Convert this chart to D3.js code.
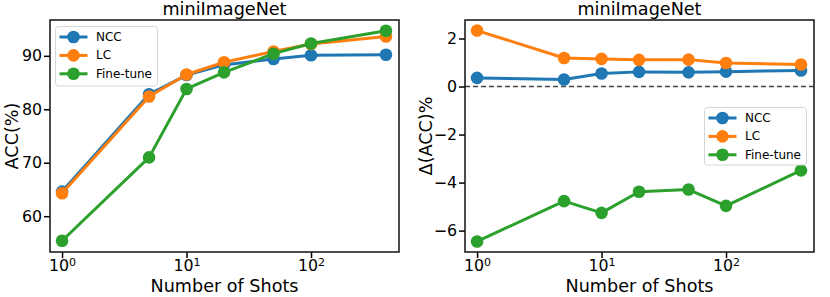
<!DOCTYPE html>
<html><head><meta charset="utf-8">
<script src="https://cdn.jsdelivr.net/npm/d3@7"></script>
<style>body{margin:0;background:#fff}svg{display:block;font-family:"DejaVu Sans",sans-serif}</style>
</head><body><svg id="c" width="830" height="297"></svg>
<script>
const shots = [1, 5, 10, 20, 50, 100, 400];
const seriesNames = ["NCC", "LC", "Fine-tune"];
const colors = ["#1f77b4", "#ff7f0e", "#2ca02c"];
const accNCC = [64.6, 82.8, 86.4, 88.3, 89.4, 90.1, 90.2];
const accLC = [64.3, 82.4, 86.5, 88.8, 90.8, 92.2, 93.6];
const accFT = [55.4, 71.0, 83.8, 86.9, 90.4, 92.3, 94.7];
const dNCC = [0.36, 0.29, 0.54, 0.61, 0.59, 0.62, 0.67];
const dLC = [2.33, 1.19, 1.15, 1.11, 1.12, 0.98, 0.92];
const dFT = [-6.45, -4.77, -5.26, -4.38, -4.29, -4.97, -3.49];
const xTicks = [1, 10, 100];
const yTicksLeft = [60, 70, 80, 90];
const yTicksRight = [-6, -4, -2, 0, 2];

const svg = d3.select("#c");
const FONT = "DejaVu Sans";

function panel(opts) {
  const {x0, x1, y0, y1, ydom, yticks, data, ylabel, ylabelX, legend, zero} = opts;
  const g = svg.append("g");
  const x = d3.scaleLog().domain([0.80, 509]).range([x0, x1]);
  const y = d3.scaleLinear().domain(ydom).range([y1, y0]);

  if (zero) {
    g.append("line").attr("x1", x0).attr("x2", x1).attr("y1", y(0)).attr("y2", y(0))
      .attr("stroke", "#444").attr("stroke-width", 1.5).attr("stroke-dasharray", "5,3");
  }

  const line = d3.line().x((d, i) => x(shots[i])).y(d => y(d));
  data.forEach((vals, k) => {
    const s = g.append("g");
    s.append("path").attr("d", line(vals)).attr("fill", "none")
      .attr("stroke", colors[k]).attr("stroke-width", 3).attr("stroke-linejoin", "round");
    s.selectAll("circle").data(vals).join("circle")
      .attr("cx", (d, i) => x(shots[i])).attr("cy", d => y(d)).attr("r", 6.3)
      .attr("fill", colors[k]);
  });

  // axes
  const xa = g.append("g").attr("transform", `translate(0,${y1})`)
    .call(d3.axisBottom(x).tickValues(xTicks).tickSize(6).tickPadding(1.5));
  xa.select(".domain").remove();
  xa.selectAll(".tick line").attr("stroke", "#000").attr("stroke-width", 1.5);
  xa.selectAll("text").attr("font-family", FONT).attr("font-size", 15.8).attr("fill", "#000")
    .each(function(d) {
      const t = d3.select(this);
      t.text("10");
      t.append("tspan").attr("dy", "-0.45em").attr("font-size", "0.7em").text(Math.round(Math.log10(d)));
    });

  const ya = g.append("g").attr("transform", `translate(${x0},0)`)
    .call(d3.axisLeft(y).tickValues(yticks).tickSize(6).tickPadding(2)
      .tickFormat(d => d < 0 ? "\u2212" + Math.abs(d) : String(d)));
  ya.select(".domain").remove();
  ya.selectAll(".tick line").attr("stroke", "#000").attr("stroke-width", 1.5);
  ya.selectAll("text").attr("font-family", FONT).attr("font-size", 15.8).attr("fill", "#000");

  g.append("rect").attr("x", x0).attr("y", y0).attr("width", x1 - x0).attr("height", y1 - y0)
    .attr("fill", "none").attr("stroke", "#111").attr("stroke-width", 1.5);

  g.append("text").attr("x", (x0 + x1) / 2).attr("y", 15).attr("text-anchor", "middle")
    .attr("font-family", FONT).attr("font-size", 17.6).text("miniImageNet");
  g.append("text").attr("x", (x0 + x1) / 2).attr("y", 291.5).attr("text-anchor", "middle")
    .attr("font-family", FONT).attr("font-size", 17.6).text("Number of Shots");
  g.append("text").attr("transform", `translate(${ylabelX},${(y0 + y1) / 2}) rotate(-90)`)
    .attr("text-anchor", "middle").attr("dominant-baseline", "central")
    .attr("font-family", FONT).attr("font-size", 17.6).text(ylabel);

  // legend
  const L = legend;
  const lg = g.append("g");
  lg.append("rect").attr("x", L.x).attr("y", L.y).attr("width", L.w).attr("height", L.h)
    .attr("rx", 3).attr("fill", "#fff").attr("fill-opacity", 0.8)
    .attr("stroke", "#d6d6d6").attr("stroke-width", 1);
  seriesNames.forEach((n, k) => {
    const cy = L.y + 10.5 + k * 18.4;
    lg.append("line").attr("x1", L.x + 4).attr("x2", L.x + 32).attr("y1", cy).attr("y2", cy)
      .attr("stroke", colors[k]).attr("stroke-width", 3);
    lg.append("circle").attr("cx", L.x + 18).attr("cy", cy).attr("r", 6.3).attr("fill", colors[k]);
    lg.append("text").attr("x", L.x + 40.5).attr("y", cy).attr("dominant-baseline", "central")
      .attr("font-family", FONT).attr("font-size", 12).text(n);
  });
}

panel({x0: 50, x1: 399, y0: 20, y1: 252, ydom: [53.3, 96.7], yticks: yTicksLeft,
  data: [accNCC, accLC, accFT], ylabel: "ACC(%)", ylabelX: 12,
  legend: {x: 55.5, y: 26.5, w: 102, h: 59.5}, zero: false});
panel({x0: 465, x1: 814, y0: 20, y1: 252, ydom: [-6.89, 2.77], yticks: yTicksRight,
  data: [dNCC, dLC, dFT], ylabel: "\u0394(ACC)%", ylabelX: 426,
  legend: {x: 704.5, y: 107.5, w: 102, h: 57.5}, zero: true});
</script></body></html>
